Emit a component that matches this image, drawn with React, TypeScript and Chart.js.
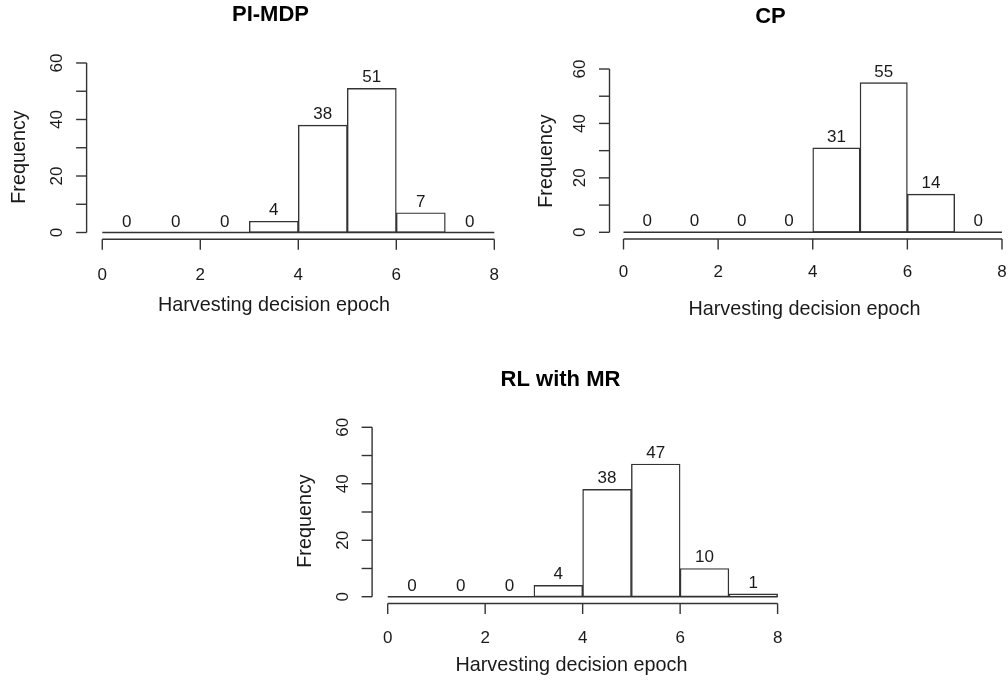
import React, { useEffect, useRef } from 'react';
import { Chart, registerables } from 'chart.js';

Chart.register(...registerables);

// ---- data ----
const binStarts = [0, 1, 2, 3, 4, 5, 6, 7];
const binEnds = [1, 2, 3, 4, 5, 6, 7, 8];
const binCenters = [0.5, 1.5, 2.5, 3.5, 4.5, 5.5, 6.5, 7.5];
const xTicks = [0, 2, 4, 6, 8];
const xTickLabels = ['0', '2', '4', '6', '8'];
const yTicks = [0, 10, 20, 30, 40, 50, 60];
const yTickLabels = ['0', '', '20', '', '40', '', '60'];
const piMdpCounts = [0, 0, 0, 4, 38, 51, 7, 0];
const cpCounts = [0, 0, 0, 0, 31, 55, 14, 0];
const rlMrCounts = [0, 0, 0, 4, 38, 47, 10, 1];
const panelTitles = ['PI-MDP', 'CP', 'RL with MR'];
const xAxisTitle = 'Harvesting decision epoch';
const yAxisTitle = 'Frequency';

// ---- layout (page coordinates) ----
type Panel = {
  title: string;
  counts: number[];
  box: { left: number; top: number; width: number; height: number };
  area: { left: number; top: number; right: number; bottom: number };
  xRange: [number, number];
  yRange: [number, number];
  titlePos: [number, number];
  xTitlePos: [number, number];
  yTitlePos: [number, number];
  xTickBaseline: number;
  yTickBaseline: number;
};

const panels: Panel[] = [
  {
    title: panelTitles[0],
    counts: piMdpCounts,
    box: { left: 0, top: 0, width: 520, height: 330 },
    area: { left: 86.6, top: 56.2, right: 510, bottom: 239.3 },
    xRange: [-0.32, 8.32],
    yRange: [-2.4, 62.4],
    titlePos: [270.5, 20.7],
    xTitlePos: [274, 311],
    yTitlePos: [25, 157],
    xTickBaseline: 280,
    yTickBaseline: 62,
  },
  {
    title: panelTitles[1],
    counts: cpCounts,
    box: { left: 520, top: 0, width: 488, height: 330 },
    area: { left: 609.5, top: 62.3, right: 1008, bottom: 239 },
    xRange: [-0.296, 8.127],
    yRange: [-2.46, 62.46],
    titlePos: [770.5, 22.5],
    xTitlePos: [804.5, 315],
    yTitlePos: [551.5, 161],
    xTickBaseline: 277,
    yTickBaseline: 585,
  },
  {
    title: panelTitles[2],
    counts: rlMrCounts,
    box: { left: 250, top: 340, width: 560, height: 341 },
    area: { left: 372.1, top: 420.5, right: 793.2, bottom: 603.5 },
    xRange: [-0.32, 8.32],
    yRange: [-2.4, 62.4],
    titlePos: [560.5, 386],
    xTitlePos: [571.5, 671],
    yTitlePos: [311, 521],
    xTickBaseline: 643,
    yTickBaseline: 348,
  },
];

const FONT = '"Liberation Sans", Arial, Helvetica, sans-serif';
const LINE = '#333333';
const TEXT = '#1a1a1a';
const TICK = 10.5;
const LW = 1.4;

function makeAxesPlugin(p: Panel) {
  return {
    id: 'rAxes',
    afterDraw(chart: any) {
      const ctx: CanvasRenderingContext2D = chart.ctx;
      const xs = chart.scales.x;
      const ys = chart.scales.y;
      const ox = p.box.left;
      const oy = p.box.top;
      const seg = (x1: number, y1: number, x2: number, y2: number) => {
        ctx.beginPath();
        ctx.moveTo(x1, y1);
        ctx.lineTo(x2, y2);
        ctx.stroke();
      };
      ctx.save();
      ctx.strokeStyle = LINE;
      ctx.lineWidth = LW;

      // zero-height bins (bar bottoms)
      const yZero = ys.getPixelForValue(0);
      seg(xs.getPixelForValue(binStarts[0]), yZero, xs.getPixelForValue(binEnds[binEnds.length - 1]), yZero);

      // y axis
      const ax = chart.chartArea.left;
      seg(ax, ys.getPixelForValue(yTicks[0]), ax, ys.getPixelForValue(yTicks[yTicks.length - 1]));
      ctx.fillStyle = TEXT;
      ctx.font = `17px ${FONT}`;
      yTicks.forEach((t, i) => {
        const py = ys.getPixelForValue(t);
        seg(ax - TICK, py, ax, py);
        if (yTickLabels[i]) {
          ctx.save();
          ctx.translate(p.yTickBaseline - ox, py);
          ctx.rotate(-Math.PI / 2);
          ctx.textAlign = 'center';
          ctx.textBaseline = 'alphabetic';
          ctx.fillText(yTickLabels[i], 0, 0);
          ctx.restore();
        }
      });

      // x axis
      const ay = chart.chartArea.bottom;
      seg(xs.getPixelForValue(xTicks[0]), ay, xs.getPixelForValue(xTicks[xTicks.length - 1]), ay);
      ctx.textAlign = 'center';
      ctx.textBaseline = 'alphabetic';
      xTicks.forEach((t, i) => {
        const px = xs.getPixelForValue(t);
        seg(px, ay, px, ay + TICK);
        ctx.fillText(xTickLabels[i], px, p.xTickBaseline - oy);
      });

      // bar count labels
      ctx.font = `17px ${FONT}`;
      p.counts.forEach((c, i) => {
        ctx.fillText(String(c), xs.getPixelForValue(binCenters[i]), ys.getPixelForValue(c) - 6);
      });

      // axis titles
      ctx.font = `19.8px ${FONT}`;
      ctx.fillText(xAxisTitle, p.xTitlePos[0] - ox, p.xTitlePos[1] - oy);
      ctx.save();
      ctx.translate(p.yTitlePos[0] - ox, p.yTitlePos[1] - oy);
      ctx.rotate(-Math.PI / 2);
      ctx.fillText(yAxisTitle, 0, 0);
      ctx.restore();

      // main title
      ctx.fillStyle = '#000';
      ctx.font = `bold 22px ${FONT}`;
      ctx.fillText(p.title, p.titlePos[0] - ox, p.titlePos[1] - oy);
      ctx.restore();
    },
  };
}

function HistPanel({ p }: { p: Panel }) {
  const ref = useRef<HTMLCanvasElement | null>(null);
  useEffect(() => {
    if (!ref.current) return;
    const chart = new Chart(ref.current, {
      type: 'bar',
      data: {
        datasets: [
          {
            data: binCenters.map((x, i) => ({ x, y: p.counts[i] })),
            backgroundColor: '#ffffff',
            borderColor: LINE,
            borderWidth: LW,
            borderSkipped: false,
            barPercentage: 1,
            categoryPercentage: 1,
          } as any,
        ],
      },
      options: {
        responsive: false,
        animation: false,
        devicePixelRatio: 1,
        layout: {
          padding: {
            left: p.area.left - p.box.left,
            top: p.area.top - p.box.top,
            right: p.box.left + p.box.width - p.area.right,
            bottom: p.box.top + p.box.height - p.area.bottom,
          },
        },
        plugins: { legend: { display: false }, tooltip: { enabled: false }, title: { display: false } },
        scales: {
          x: { type: 'linear', min: p.xRange[0], max: p.xRange[1], display: false, offset: false },
          y: { type: 'linear', min: p.yRange[0], max: p.yRange[1], display: false },
        },
      },
      plugins: [makeAxesPlugin(p)],
    });
    return () => chart.destroy();
  }, [p]);
  return (
    <canvas
      ref={ref}
      width={p.box.width}
      height={p.box.height}
      style={{ position: 'absolute', left: p.box.left, top: p.box.top, width: p.box.width, height: p.box.height }}
    />
  );
}

export default function App() {
  return (
    <div style={{ position: 'absolute', left: 0, top: 0, width: 1008, height: 681, background: '#fff', overflow: 'hidden' }}>
      {panels.map((p) => (
        <HistPanel key={p.title} p={p} />
      ))}
    </div>
  );
}
